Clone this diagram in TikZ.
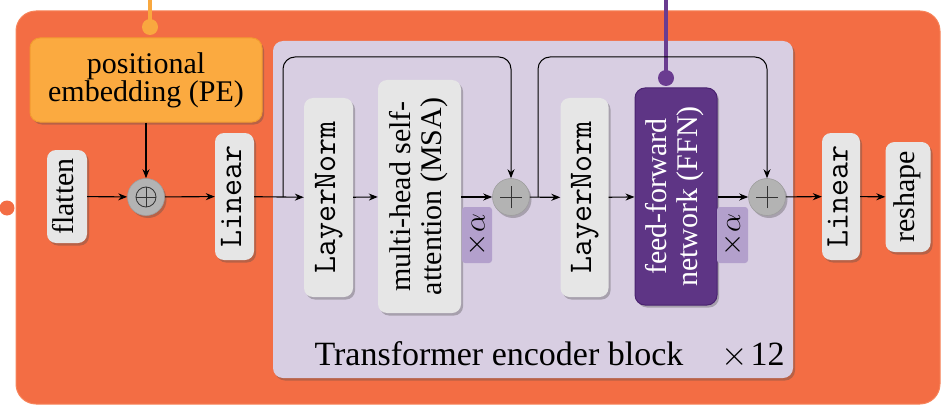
\RequirePackage{fix-cm}
\documentclass[tikz,border=0pt]{standalone}
\usepackage{fontspec}
\usepackage{graphicx}
\setmainfont{Liberation Serif}
\usetikzlibrary{arrows.meta,shadows}
\definecolor{outerorange}{HTML}{F36D44}
\definecolor{outerborder}{HTML}{F7845A}
\definecolor{peorange}{HTML}{FBAA40}
\definecolor{peborder}{HTML}{F29A30}
\definecolor{lav}{HTML}{D8CEE2}
\definecolor{boxgray}{HTML}{E6E6E6}
\definecolor{ffnpurple}{HTML}{5E3585}
\definecolor{ffnborder}{HTML}{4A2270}
\definecolor{alphabox}{HTML}{B3A0CC}
\definecolor{linepurple}{HTML}{6A3C90}
\definecolor{lineorange}{HTML}{F9A83F}
\definecolor{circgray}{HTML}{B3B3B3}
\newcommand{\vtext}[1]{\rotatebox{90}{\begin{tabular}{@{}c@{}}#1\end{tabular}}}
\newcommand{\bigfont}{\fontsize{30}{31}\selectfont}
\newcommand{\ttbig}{\fontsize{33}{33}\selectfont\ttfamily}
\tikzset{
  shad/.style={drop shadow={shadow xshift=2pt,shadow yshift=-2.5pt,opacity=0.35,fill=black!70}},
  gbox/.style={fill=boxgray, rounded corners=9pt, inner sep=0pt, shad, font=\bigfont},
  abox/.style={fill=alphabox, rounded corners=3pt, inner sep=0pt, font=\bigfont},
  plusc/.style={circle, fill=circgray, draw=black!38, line width=0.6pt, minimum size=37pt, inner sep=0pt, shad},
  conn/.style={-{Stealth[length=9pt,width=7pt]}, line width=1.1pt, black},
  skip/.style={-{Stealth[length=9pt,width=7pt]}, line width=1pt, black, rounded corners=12pt},
  symb/.style={line width=0.8pt, black!80},
  dotnode/.style={circle, inner sep=0pt, minimum size=16pt},
}
\begin{document}
\begin{tikzpicture}[x=1pt,y=-1pt]
\useasboundingbox (0,0) rectangle (941,409);
% outer
\node[fill=outerorange, draw=outerborder, line width=1pt, rounded corners=20pt, minimum width=924pt, minimum height=393pt, inner sep=0pt] (outer) at (478,207.5) {};
\node[dotnode, fill=outerorange, minimum size=15pt] (ldot) at (7,208) {};
% PE connector
\coordinate (petop) at (150,0);
\node[dotnode, fill=lineorange] (pedot) at (150,27) {};
\draw[lineorange, line width=4pt] (petop) -- (pedot.center);
\node[fill=peorange, draw=peborder, line width=1pt, rounded corners=10pt, minimum width=232pt, minimum height=84pt, inner sep=0pt, shad, font=\fontsize{30}{28}\selectfont, align=center] (pe) at (146,80) {positional\\embedding (PE)};
% transformer block
\node[fill=lav, rounded corners=10pt, minimum width=520pt, minimum height=337pt, inner sep=0pt, shad] (block) at (533,209.5) {};
% nodes
\node[gbox, minimum width=40pt, minimum height=93pt] (flatten) at (67,196.5) {\vtext{flatten}};
\node[plusc] (oplus) at (146,197) {};
\draw[symb] (oplus.center) circle (10pt);
\draw[symb] ([xshift=-10pt]oplus.center) -- ([xshift=10pt]oplus.center);
\draw[symb] ([yshift=-10pt]oplus.center) -- ([yshift=10pt]oplus.center);
\node[gbox, minimum width=39pt, minimum height=127pt, font=\ttbig] (lin1) at (234.5,196.5) {\vtext{Linear}};
\node[gbox, minimum width=49pt, minimum height=199pt, font=\ttbig] (ln1) at (328.5,197.5) {\vtext{LayerNorm}};
\node[gbox, minimum width=83pt, minimum height=233pt] (msa) at (419.5,196.5) {\vtext{multi-head self-\\attention (MSA)}};
\node[abox, minimum width=30pt, minimum height=56pt] (a1) at (477,235) {\rotatebox{90}{$\times\alpha$}};
\node[plusc] (plus1) at (511,197) {};
\draw[symb] ([xshift=-11pt]plus1.center) -- ([xshift=11pt]plus1.center);
\draw[symb] ([yshift=-11pt]plus1.center) -- ([yshift=11pt]plus1.center);
\node[gbox, minimum width=48pt, minimum height=199pt, font=\ttbig] (ln2) at (584.5,197.5) {\vtext{LayerNorm}};
\node[fill=ffnpurple, draw=ffnborder, line width=1pt, rounded corners=10pt, minimum width=82pt, minimum height=217pt, inner sep=0pt, shad, font=\bigfont, text=white] (ffn) at (676,196.5) {\vtext{feed-forward\\network (FFN)}};
\node[abox, minimum width=31pt, minimum height=56pt] (a2) at (732.5,235) {\rotatebox{90}{$\times\alpha$}};
\node[plusc] (plus2) at (767,197) {};
\draw[symb] ([xshift=-11pt]plus2.center) -- ([xshift=11pt]plus2.center);
\draw[symb] ([yshift=-11pt]plus2.center) -- ([yshift=11pt]plus2.center);
\node[gbox, minimum width=38pt, minimum height=127pt, font=\ttbig] (lin2) at (841,196.5) {\vtext{Linear}};
\node[gbox, minimum width=45pt, minimum height=110pt] (reshape) at (908,197) {\vtext{reshape}};
% FFN connector
\coordinate (ffntop) at (666,0);
\node[dotnode, fill=linepurple] (ffndot) at (666,78) {};
\draw[linepurple, line width=4pt] (ffntop) -- (ffndot.center);
% labels
\node[anchor=base, font=\fontsize{34}{40}\selectfont, inner sep=0pt] (blabel) at (499,365) {Transformer encoder block};
\node[anchor=base, font=\fontsize{34}{40}\selectfont, inner sep=0pt] (xtw) at (753,365) {$\times$\kern3pt 12};
% connectors
\draw[conn] (pe.south) -- (oplus.north);
\draw[conn] (flatten) -- (oplus);
\draw[conn] (oplus) -- (lin1);
\draw[conn] (lin1) -- (ln1);
\draw[conn] (ln1) -- (msa);
\draw[conn] (msa.east |- plus1.west) -- (plus1.west);
\draw[conn] (plus1) -- (ln2);
\draw[conn] (ln2) -- (ffn);
\draw[conn] (ffn.east |- plus2.west) -- (plus2.west);
\draw[conn] (plus2) -- (lin2);
\draw[conn] (lin2) -- (reshape);
\coordinate (s1) at (283,197);
\coordinate (s1t) at (283,57);
\draw[skip] (s1) -- (s1t) -| (plus1.north);
\coordinate (s2) at (538,197);
\coordinate (s2t) at (538,57);
\draw[skip] (s2) -- (s2t) -| (plus2.north);
\end{tikzpicture}
\end{document}
